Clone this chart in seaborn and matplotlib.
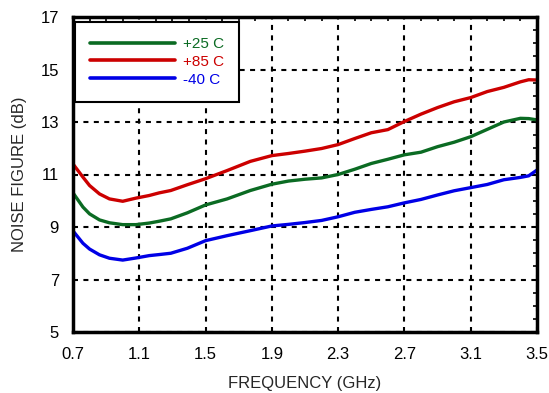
import numpy as np
import pandas as pd
import matplotlib
matplotlib.use("Agg")
import matplotlib.pyplot as plt
import seaborn as sns
from matplotlib.ticker import MultipleLocator

freq = [0.7, 0.76, 0.8, 0.86, 0.92, 1.0, 1.08, 1.16, 1.22, 1.29, 1.39, 1.5, 1.63,
        1.77, 1.9, 2.0, 2.1, 2.2, 2.3, 2.4, 2.5, 2.6, 2.7, 2.8, 2.9, 3.0, 3.1,
        3.2, 3.3, 3.4, 3.45, 3.5]
nf_85 = [11.4, 10.9, 10.58, 10.26, 10.07, 9.98, 10.1, 10.2, 10.3, 10.39, 10.61,
         10.84, 11.15, 11.5, 11.72, 11.8, 11.89, 11.99, 12.14, 12.37, 12.59, 12.71,
         13.02, 13.3, 13.55, 13.77, 13.93, 14.16, 14.32, 14.53, 14.61, 14.6]
nf_25 = [10.3, 9.76, 9.5, 9.27, 9.16, 9.09, 9.09, 9.15, 9.22, 9.31, 9.54, 9.84,
         10.07, 10.39, 10.63, 10.75, 10.82, 10.87, 11.0, 11.2, 11.42, 11.58, 11.75,
         11.85, 12.06, 12.23, 12.44, 12.72, 13.0, 13.14, 13.13, 13.08]
nf_m40 = [8.85, 8.38, 8.16, 7.94, 7.81, 7.74, 7.82, 7.91, 7.95, 8.0, 8.19, 8.48,
          8.67, 8.86, 9.04, 9.1, 9.17, 9.25, 9.39, 9.56, 9.67, 9.77, 9.92, 10.05,
          10.22, 10.38, 10.5, 10.62, 10.8, 10.89, 10.95, 11.17]
labels = ["+25 C", "+85 C", "-40 C"]
colors = ["#0b6b23", "#cc0000", "#0000e6"]

x_ticks = [0.7, 1.1, 1.5, 1.9, 2.3, 2.7, 3.1, 3.5]
y_ticks = [5, 7, 9, 11, 13, 15, 17]

df = pd.concat([
    pd.DataFrame({"freq": freq, "nf": v, "temp": lab})
    for v, lab in zip([nf_25, nf_85, nf_m40], labels)
])

sns.set_style("white")
plt.rcParams["font.family"] = ["Liberation Sans", "DejaVu Sans"]

fig = plt.figure(figsize=(5.49, 3.93), dpi=100)
ax = fig.add_axes([73/549, 61/393, 464/549, 315/393])

sns.lineplot(data=df, x="freq", y="nf", hue="temp", hue_order=labels,
             palette=colors, linewidth=2.4, ax=ax, legend=True)
for ln in ax.get_lines():
    ln.set_solid_joinstyle("round")
    ln.set_solid_capstyle("round")

ax.set_xlim(0.7, 3.5)
ax.set_ylim(5, 17)
ax.set_xticks(x_ticks)
ax.set_xticklabels([f"{t:.1f}" for t in x_ticks])
ax.set_yticks(y_ticks)
ax.xaxis.set_minor_locator(MultipleLocator(0.1))
ax.yaxis.set_minor_locator(MultipleLocator(0.5))
ax.tick_params(which="both", direction="in", top=True, right=True,
               labelsize=12, colors="black")
ax.tick_params(which="major", length=0)
ax.tick_params(axis="x", which="major", pad=11)
ax.tick_params(axis="y", which="major", pad=10)
ax.tick_params(which="minor", length=3, width=1.2)
ax.grid(True, which="major", color="black", linestyle=(0, (2.4, 2.6)), linewidth=1.5)

for s in ax.spines.values():
    s.set_linewidth(2.5)
    s.set_color("black")

ax.set_xlabel("FREQUENCY (GHz)", fontsize=12, labelpad=10)
ax.set_ylabel("NOISE FIGURE (dB)", fontsize=12, labelpad=10)

handles, labs = ax.get_legend_handles_labels()
leg = ax.legend(handles, labs, loc="upper left", bbox_to_anchor=(0.004, 0.985),
                fontsize=11, frameon=True, fancybox=False, handlelength=5.55,
                handletextpad=0.52, labelspacing=0.25, borderpad=1.0,
                borderaxespad=0.0)
leg.get_frame().set_edgecolor("black")
leg.get_frame().set_linewidth(1.5)
leg.get_frame().set_alpha(1)
for t, c in zip(leg.get_texts(), colors):
    t.set_color(c)
for l in leg.get_lines():
    l.set_linewidth(2.6)

fig.savefig("out.png", dpi=100)
